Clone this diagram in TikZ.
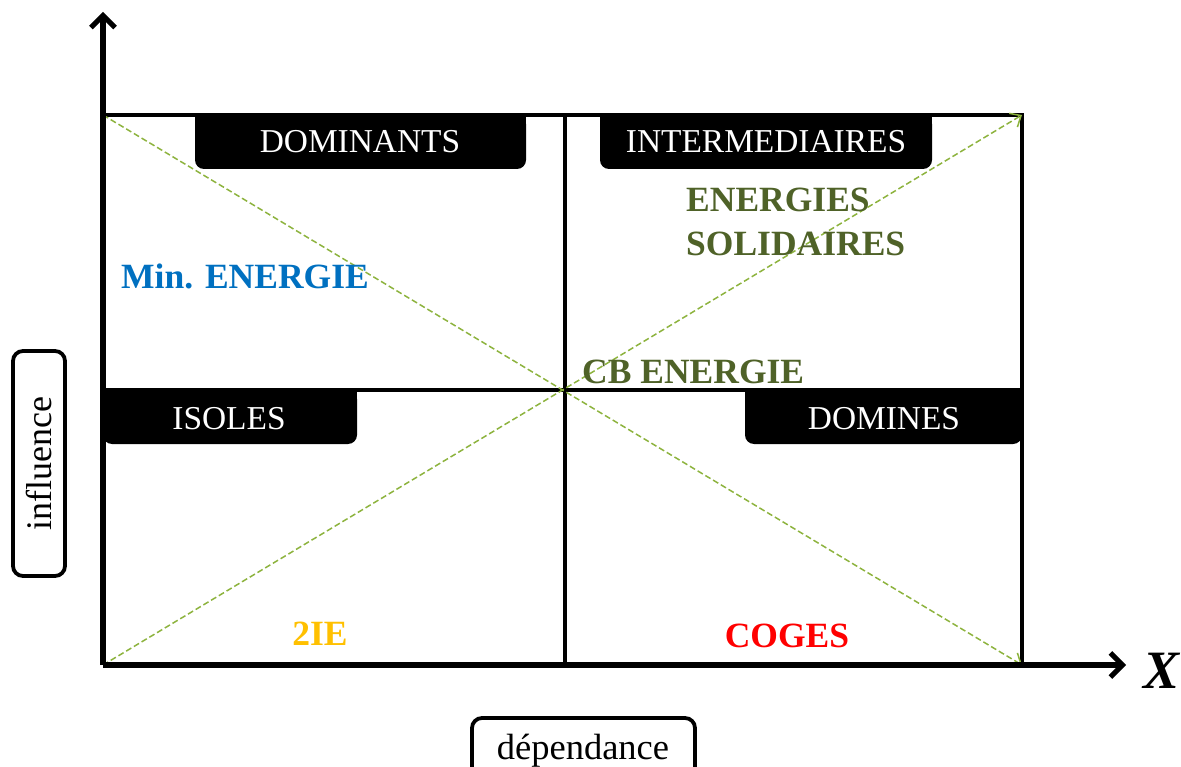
\documentclass[tikz,border=0pt]{standalone}
\usepackage{fontspec}
\setmainfont{Liberation Serif}
\usetikzlibrary{arrows.meta}
\definecolor{olivegreen}{HTML}{4F6228}
\definecolor{diaggreen}{HTML}{8DB33E}
\definecolor{minblue}{HTML}{0070C0}
\definecolor{ieyellow}{HTML}{FFC000}
\tikzset{
  axis/.style={line width=5.5pt, -{Straight Barb[length=12pt,width=24pt,line width=5pt]}},
  frame/.style={line width=4.2pt},
  diag/.style={draw=diaggreen, line width=1.5pt, dash pattern=on 6pt off 3pt, -{Straight Barb[length=9pt,width=16pt,line width=1.5pt]}},
  tag/.style={fill=black, rounded corners=9pt},
  tagtext/.style={text=white, font=\fontsize{33.4}{36}\selectfont, anchor=base, inner sep=0pt},
  big/.style={font=\fontsize{35.5}{40}\selectfont\bfseries, anchor=base, inner sep=0pt}
}
\begin{document}
\begin{tikzpicture}[x=1pt,y=-1pt]
\useasboundingbox (0,0) rectangle (1181,767);
% coordinates
\coordinate (o) at (103,665);
\coordinate (tl) at (103,115);
\coordinate (tr) at (1022,115);
\coordinate (br) at (1022,665);
\coordinate (c) at (565,390);
\coordinate (ml) at (103,390);
\coordinate (mr) at (1022,390);
\coordinate (mt) at (565,115);
\coordinate (mb) at (565,665);
\coordinate (ytip) at (103,12);
\coordinate (xtip) at (1126,665);
% label boxes
\path[tag] (195,115) rectangle (526,169);
\path[tag] (600,115) rectangle (932,169);
\path[tag] (103,390) rectangle (357,444);
\path[tag] (745,390) rectangle (1022,444);
\fill (195,115) rectangle (526,130);
\fill (600,115) rectangle (932,130);
\fill (103,390) rectangle (357,405);
\fill (745,390) rectangle (1022,405);
% frame
\draw[frame] (tl) -- (tr) -- (br);
\draw[frame] (mt) -- (mb);
\draw[frame] (ml) -- (mr);
% diagonals
\draw[diag] (tl) -- (br);
\draw[diag] (o) -- (tr);
% axes
\draw[axis] (o) -- (ytip);
\draw[axis] (o) -- (xtip);
% tag texts
\node[tagtext] (dominants) at (360,153) {DOMINANTS};
\node[tagtext] (inter) at (766,153) {INTERMEDIAIRES};
\node[tagtext] (isoles) at (229,429) {ISOLES};
\node[tagtext] (domines) at (884,429) {DOMINES};
% content texts
\node[big, text=olivegreen, anchor=base west] (energies) at (686,212) {ENERGIES};
\node[big, text=olivegreen, anchor=base west] (solid) at (686,256) {SOLIDAIRES};
\node[big, text=minblue, anchor=base west] (min) at (121,289) {Min. ENERGIE};
\node[big, text=olivegreen, anchor=base west] (cb) at (582,383) {CB ENERGIE};
\node[big, text=ieyellow] (ie) at (320,645) {2IE};
\node[big, text=red] (coges) at (787,647) {COGES};
\node[font=\fontsize{54}{58}\selectfont\bfseries\itshape, anchor=base, inner sep=0pt] (X) at (1161,688) {X};
% axis labels
\draw[line width=3.8pt, rounded corners=10pt] (13,351) rectangle (65,576);
\node[font=\fontsize{36}{40}\selectfont, rotate=90, anchor=base, inner sep=0pt] (infl) at (51,464) {influence};
\draw[line width=3.8pt, rounded corners=10pt] (472,790) -- (472,718) -- (695,718) -- (695,790);
\node[font=\fontsize{36.5}{40}\selectfont, anchor=base, inner sep=0pt] (dep) at (583,759) {dépendance};
\end{tikzpicture}
\end{document}
